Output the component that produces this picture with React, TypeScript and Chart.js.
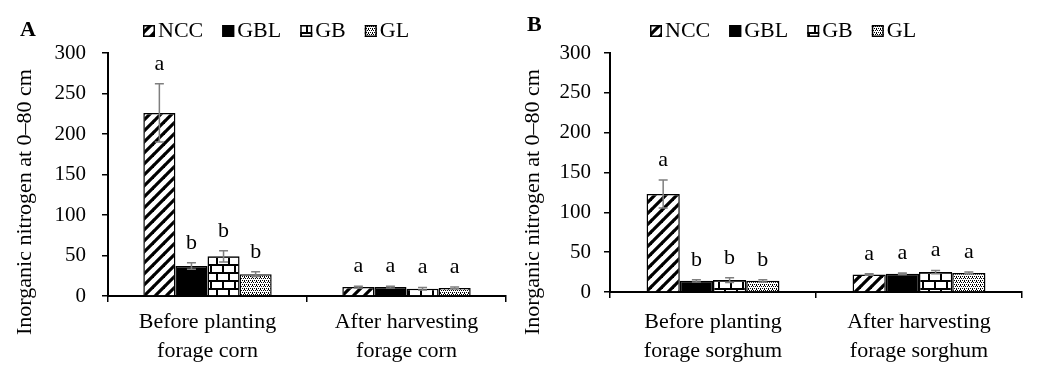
import React, { useEffect, useRef } from "react";
import { Chart, registerables } from "chart.js";
Chart.register(...registerables);

// ---------- data ----------
const seriesNames = ["NCC", "GBL", "GB", "GL"];
const categoriesA = [["Before planting", "forage corn"], ["After harvesting", "forage corn"]];
const categoriesB = [["Before planting", "forage sorghum"], ["After harvesting", "forage sorghum"]];
const yTickValues = [0, 50, 100, 150, 200, 250, 300];
const yTitle = "Inorganic nitrogen at 0\u201380 cm";

const nccA = [226, 11];
const nccAErr = [36, 1];
const gblA = [37, 11];
const gblAErr = [4, 1];
const gbA = [49, 9];
const gbAErr = [7, 1.5];
const glA = [27, 10];
const glAErr = [3, 1];
const nccALetters = ["a", "a"];
const gblALetters = ["b", "a"];
const gbALetters = ["b", "a"];
const glALetters = ["b", "a"];

const nccB = [123, 22];
const nccBErr = [17.5, 1];
const gblB = [14, 23];
const gblBErr = [1.5, 1];
const gbB = [15, 25];
const gbBErr = [3, 2];
const glB = [14, 24];
const glBErr = [1.5, 1];
const nccBLetters = ["a", "a"];
const gblBLetters = ["b", "a"];
const gbBLetters = ["b", "a"];
const glBLetters = ["b", "a"];

const FONT = "'Liberation Serif', 'Times New Roman', serif";

// ---------- patterns ----------
function makePattern(kind: string): CanvasPattern | string {
  if (kind === "solid") return "#000000";
  const c = document.createElement("canvas");
  const g = c.getContext("2d")!;
  if (kind === "diag") {
    const s = 11;
    c.width = s; c.height = s;
    g.fillStyle = "#fff"; g.fillRect(0, 0, s, s);
    g.strokeStyle = "#000"; g.lineWidth = 3.2;
    for (const o of [-s, 0, s]) {
      g.beginPath(); g.moveTo(o - 1, s + 1); g.lineTo(o + s + 1, -1); g.stroke();
    }
  } else if (kind === "brick") {
    c.width = 24; c.height = 16;
    g.fillStyle = "#fff"; g.fillRect(0, 0, 24, 16);
    g.fillStyle = "#000";
    g.fillRect(0, 0, 24, 2);
    g.fillRect(0, 8, 24, 2);
    g.fillRect(0, 0, 2, 8);
    g.fillRect(12, 0, 2, 8);
    g.fillRect(6, 8, 2, 8);
    g.fillRect(18, 8, 2, 8);
  } else if (kind === "dots") {
    c.width = 4; c.height = 4;
    g.fillStyle = "#fff"; g.fillRect(0, 0, 4, 4);
    g.fillStyle = "#000";
    g.fillRect(0, 0, 1, 1); g.fillRect(2, 0, 1, 1);
    g.fillRect(1, 2, 1, 1); g.fillRect(3, 2, 1, 1);
    g.fillRect(0, 1, 1, 1);
  }
  return g.createPattern(c, "repeat")!;
}

type Panel = {
  letter: string;
  letterX: number;
  letterY: number;
  categories: string[][];
  values: number[][];
  errors: number[][];
  letters: string[][];
  axisLeft: number;
  padRight: number;
  axisHeight: number;
  tickPad: number;
  xTickPad: number;
  titleX: number;
  legendX: number;
};

function buildChart(canvas: HTMLCanvasElement, p: Panel) {
  const fills = [makePattern("diag"), makePattern("solid"), makePattern("brick"), makePattern("dots")];
  const datasets = seriesNames.map((name, i) => ({
    label: name,
    data: p.values[i],
    backgroundColor: fills[i] as any,
    borderColor: "#000",
    borderWidth: 1.5,
    categoryPercentage: 0.645,
    barPercentage: 1.0,
  }));

  const overlay = {
    id: "overlay",
    afterDatasetsDraw(chart: any) {
      const ctx = chart.ctx as CanvasRenderingContext2D;
      const ys = chart.scales.y;
      ctx.save();
      chart.data.datasets.forEach((ds: any, i: number) => {
        const meta = chart.getDatasetMeta(i);
        meta.data.forEach((el: any, j: number) => {
          const v = p.values[i][j];
          const e = p.errors[i][j];
          const x = el.x;
          const yt = ys.getPixelForValue(v + e);
          const yb = ys.getPixelForValue(v - e);
          ctx.strokeStyle = "#7f7f7f";
          ctx.lineWidth = 1.5;
          ctx.beginPath();
          ctx.moveTo(x, yt); ctx.lineTo(x, yb);
          ctx.moveTo(x - 4.5, yt); ctx.lineTo(x + 4.5, yt);
          ctx.moveTo(x - 4.5, yb); ctx.lineTo(x + 4.5, yb);
          ctx.stroke();
          ctx.fillStyle = "#000";
          ctx.font = `22px ${FONT}`;
          ctx.textAlign = "center";
          ctx.textBaseline = "alphabetic";
          ctx.fillText(p.letters[i][j], x, yt - 14);
        });
      });
      ctx.restore();
    },
    afterDraw(chart: any) {
      const ctx = chart.ctx as CanvasRenderingContext2D;
      ctx.save();
      // y-axis title
      ctx.fillStyle = "#000";
      ctx.font = `22px ${FONT}`;
      ctx.translate(p.titleX, 202);
      ctx.rotate(-Math.PI / 2);
      ctx.textAlign = "center";
      ctx.textBaseline = "middle";
      ctx.fillText(yTitle, 0, 0);
      ctx.setTransform(1, 0, 0, 1, 0, 0);
      // panel letter
      ctx.font = `bold 22px ${FONT}`;
      ctx.textAlign = "left";
      ctx.textBaseline = "alphabetic";
      ctx.fillText(p.letter, p.letterX, p.letterY);
      // legend
      ctx.font = `22px ${FONT}`;
      ctx.textBaseline = "middle";
      let x = p.legendX;
      chart.data.datasets.forEach((ds: any) => {
        ctx.fillStyle = ds.backgroundColor;
        ctx.fillRect(x, 25, 12, 12);
        ctx.strokeStyle = "#000";
        ctx.lineWidth = 1.5;
        ctx.strokeRect(x + 0.75, 25.75, 10.5, 10.5);
        ctx.fillStyle = "#000";
        ctx.fillText(ds.label, x + 15, 31.5);
        x += 15 + ctx.measureText(ds.label).width + 19;
      });
      ctx.restore();
    },
  };

  return new Chart(canvas, {
    type: "bar",
    data: { labels: p.categories as any, datasets },
    options: {
      responsive: false,
      animation: false,
      layout: { padding: { top: 53, right: p.padRight, left: 0, bottom: 0 } },
      plugins: { legend: { display: false }, tooltip: { enabled: false } },
      scales: {
        x: {
          afterFit: (s: any) => { s.height = p.axisHeight; },
          grid: { display: true, drawOnChartArea: false, drawTicks: true, tickLength: 6, color: "#000", lineWidth: 1.5, offset: true },
          border: { display: true, color: "#000", width: 2 },
          ticks: { color: "#000", font: { family: FONT, size: 22, lineHeight: 1.32 }, padding: p.xTickPad, maxRotation: 0, autoSkip: false },
        },
        y: {
          min: 0,
          max: 300,
          afterFit: (s: any) => { s.width = p.axisLeft; },
          afterBuildTicks: (s: any) => { s.ticks = yTickValues.map((v) => ({ value: v })); },
          grid: { display: true, drawOnChartArea: false, drawTicks: true, tickLength: 6, color: "#000", lineWidth: 1.5 },
          border: { display: true, color: "#000", width: 2 },
          ticks: { color: "#000", font: { family: FONT, size: 21 }, padding: p.tickPad },
        },
      },
    },
    plugins: [overlay],
  });
}

const panelA: Panel = {
  letter: "A", letterX: 20, letterY: 36,
  categories: categoriesA,
  values: [nccA, gblA, gbA, glA],
  errors: [nccAErr, gblAErr, gbAErr, glAErr],
  letters: [nccALetters, gblALetters, gbALetters, glALetters],
  axisLeft: 108, padRight: 14, axisHeight: 81, tickPad: 16, xTickPad: 5.5,
  titleX: 25, legendX: 143,
};

const panelB: Panel = {
  letter: "B", letterX: 7, letterY: 31,
  categories: categoriesB,
  values: [nccB, gblB, gbB, glB],
  errors: [nccBErr, gblBErr, gbBErr, glBErr],
  letters: [nccBLetters, gblBLetters, gbBLetters, glBLetters],
  axisLeft: 90, padRight: 30, axisHeight: 85, tickPad: 13, xTickPad: 9.5,
  titleX: 13, legendX: 130,
};

export default function App() {
  const refA = useRef<HTMLCanvasElement>(null);
  const refB = useRef<HTMLCanvasElement>(null);
  useEffect(() => {
    const a = buildChart(refA.current!, panelA);
    const b = buildChart(refB.current!, panelB);
    return () => { a.destroy(); b.destroy(); };
  }, []);
  return (
    <div style={{ position: "fixed", left: 0, top: 0, width: 1052, height: 377, background: "#fff" }}>
      <canvas ref={refA} width={520} height={377} style={{ position: "absolute", left: 0, top: 0 }} />
      <canvas ref={refB} width={532} height={377} style={{ position: "absolute", left: 520, top: 0 }} />
    </div>
  );
}
